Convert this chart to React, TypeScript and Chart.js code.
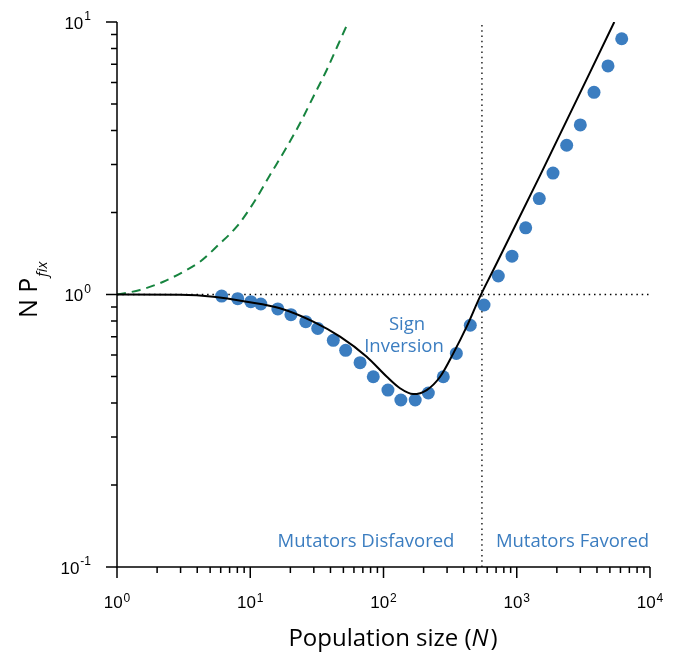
import React, { useEffect, useRef } from 'react';
import { Chart, registerables } from 'chart.js';

Chart.register(...registerables);

// ---- Data ----
const dotsN = [6.1, 8.05, 10.1, 12.0, 16.1, 20.2, 26.1, 32.1, 42.0, 52.0, 66.7, 83.8, 108, 135, 173, 217, 281, 352, 448, 568, 727, 921, 1167, 1476, 1871, 2370, 2999, 3800, 4839, 6134];
const dotsP = [0.987, 0.965, 0.941, 0.923, 0.885, 0.843, 0.795, 0.751, 0.679, 0.624, 0.562, 0.499, 0.446, 0.41, 0.41, 0.435, 0.499, 0.608, 0.771, 0.915, 1.169, 1.383, 1.757, 2.25, 2.79, 3.53, 4.19, 5.52, 6.9, 8.68];

const theoryN = [1, 2.97, 5.28, 9.4, 16.7, 29.7, 47.2, 74.8, 106, 133, 167, 211, 266, 334, 421, 530, 667, 1494, 5395];
const theoryP = [1, 0.998, 0.982, 0.941, 0.89, 0.795, 0.7, 0.591, 0.499, 0.453, 0.431, 0.446, 0.499, 0.608, 0.762, 0.982, 1.23, 2.73, 10];

const neutralN = [1, 1.488, 2.226, 3.146, 4.197, 5.757, 7.912, 10.54, 14.07, 18.23, 23.63, 29.74, 37.48, 45.16, 54.43];
const neutralP = [1, 1.039, 1.114, 1.212, 1.319, 1.519, 1.774, 2.161, 2.745, 3.391, 4.249, 5.32, 6.667, 8.166, 10];

const thresholdN = 548;
const referenceP = 1;

const xRange = [1, 10000];
const yRange = [0.1, 10];

const xMajorTicks = [1, 10, 100, 1000, 10000];
const xMajorExponents = ['0', '1', '2', '3', '4'];
const yMajorTicks = [0.1, 1, 10];
const yMajorExponents = ['-1', '0', '1'];
const minorMultipliers = [2, 3, 4, 5, 6, 7, 8, 9];

const xTitle = 'Population size (';
const xTitleItalic = 'N';
const yTitleMain = 'N P';
const yTitleSub = 'fix';
const annotationSign = ['Sign', 'Inversion'];
const annotationLeft = 'Mutators Disfavored';
const annotationRight = 'Mutators Favored';

const BLUE = 'rgb(59,125,192)';
const GREEN = '#17843f';

const axesPlugin = {
  id: 'customAxes',
  afterDraw(chart: any) {
    const ctx: CanvasRenderingContext2D = chart.ctx;
    const xs = chart.scales.x;
    const ys = chart.scales.y;
    const { left, right, top, bottom } = chart.chartArea;
    ctx.save();
    ctx.strokeStyle = '#000';
    ctx.lineWidth = 1.5;
    ctx.beginPath();
    ctx.moveTo(left, top);
    ctx.lineTo(left, bottom);
    ctx.lineTo(right, bottom);
    ctx.stroke();

    // ticks
    ctx.beginPath();
    xMajorTicks.forEach((v) => {
      const px = xs.getPixelForValue(v);
      ctx.moveTo(px, bottom);
      ctx.lineTo(px, bottom + 11);
    });
    for (let i = 0; i < xMajorTicks.length - 1; i++) {
      minorMultipliers.forEach((m) => {
        const px = xs.getPixelForValue(xMajorTicks[i] * m);
        ctx.moveTo(px, bottom);
        ctx.lineTo(px, bottom + 6);
      });
    }
    yMajorTicks.forEach((v) => {
      const py = ys.getPixelForValue(v);
      ctx.moveTo(left - 11, py);
      ctx.lineTo(left, py);
    });
    for (let i = 0; i < yMajorTicks.length - 1; i++) {
      minorMultipliers.forEach((m) => {
        const py = ys.getPixelForValue(yMajorTicks[i] * m);
        ctx.moveTo(left - 6, py);
        ctx.lineTo(left, py);
      });
    }
    ctx.stroke();

    // tick labels
    ctx.fillStyle = '#000';
    ctx.textBaseline = 'alphabetic';
    ctx.textAlign = 'left';
    const baseFont = '17px "Liberation Sans", Arial, sans-serif';
    const supFont = '12px "Liberation Sans", Arial, sans-serif';
    xMajorTicks.forEach((v, i) => {
      const px = xs.getPixelForValue(v);
      ctx.font = baseFont;
      const w1 = ctx.measureText('10').width;
      ctx.font = supFont;
      const w2 = ctx.measureText(xMajorExponents[i]).width;
      const start = px - (w1 + 1 + w2) / 2;
      ctx.font = baseFont;
      ctx.fillText('10', start, bottom + 41);
      ctx.font = supFont;
      ctx.fillText(xMajorExponents[i], start + w1 + 1, bottom + 35);
    });
    yMajorTicks.forEach((v, i) => {
      const py = ys.getPixelForValue(v);
      ctx.font = supFont;
      const w2 = ctx.measureText(yMajorExponents[i]).width;
      ctx.font = baseFont;
      const w1 = ctx.measureText('10').width;
      const rightEdge = left - 26;
      const start = rightEdge - w2 - 1 - w1;
      ctx.fillText('10', start, py + 6.5);
      ctx.font = supFont;
      ctx.fillText(yMajorExponents[i], start + w1 + 1, py - 2);
    });

    // x title
    const titleFont = '24px "Open Sans", sans-serif';
    const titleItalic = 'italic 24px "Open Sans", sans-serif';
    ctx.font = titleFont;
    const t1 = ctx.measureText(xTitle).width;
    const t3 = ctx.measureText(')').width;
    ctx.font = titleItalic;
    const t2 = ctx.measureText(xTitleItalic).width;
    const total = t1 + t2 + t3 + 2;
    let sx = 393 - total / 2;
    const by = bottom + 79;
    ctx.font = titleFont;
    ctx.fillText(xTitle, sx, by);
    sx += t1;
    ctx.font = titleItalic;
    ctx.fillText(xTitleItalic, sx, by);
    sx += t2 + 2;
    ctx.font = titleFont;
    ctx.fillText(')', sx, by);

    // y title (rotated)
    ctx.save();
    ctx.translate(37, 318);
    ctx.rotate(-Math.PI / 2);
    ctx.font = '25px "Open Sans", sans-serif';
    ctx.fillText(yTitleMain, 0, 0);
    const ym = ctx.measureText(yTitleMain).width;
    ctx.font = 'italic 14.5px "Open Sans", sans-serif';
    ctx.fillText(yTitleSub, ym + 1, 10);
    ctx.restore();

    // annotations
    ctx.fillStyle = BLUE;
    ctx.font = '18.5px "Open Sans", sans-serif';
    ctx.textAlign = 'center';
    ctx.fillText(annotationSign[0], 407, 330);
    ctx.fillText(annotationSign[1], 404, 352);
    ctx.fillText(annotationLeft, 366, 546.5);
    ctx.fillText(annotationRight, 572.5, 546.5);
    ctx.restore();
  },
};

export default function App() {
  const canvasRef = useRef<HTMLCanvasElement | null>(null);

  useEffect(() => {
    if (!canvasRef.current) return;
    const chart = new Chart(canvasRef.current, {
      type: 'scatter',
      data: {
        datasets: [
          {
            label: 'theory',
            data: theoryN.map((n, i) => ({ x: n, y: theoryP[i] })),
            showLine: true,
            borderColor: '#000',
            borderWidth: 2,
            pointRadius: 0,
            cubicInterpolationMode: 'monotone',
            order: 0,
          } as any,
          {
            label: 'simulation',
            data: dotsN.map((n, i) => ({ x: n, y: dotsP[i] })),
            showLine: false,
            pointRadius: 6.5,
            pointBackgroundColor: BLUE,
            pointBorderWidth: 0,
            pointBorderColor: BLUE,
            order: 1,
          } as any,
          {
            label: 'neutral',
            data: neutralN.map((n, i) => ({ x: n, y: neutralP[i] })),
            showLine: true,
            borderColor: GREEN,
            borderWidth: 2,
            borderDash: [9, 6],
            pointRadius: 0,
            cubicInterpolationMode: 'monotone',
            order: 2,
          } as any,
          {
            label: 'ref-h',
            data: [
              { x: xRange[0], y: referenceP },
              { x: xRange[1], y: referenceP },
            ],
            showLine: true,
            borderColor: '#000',
            borderWidth: 1.3,
            borderDash: [1.5, 3.8],
            pointRadius: 0,
            order: 3,
          } as any,
          {
            label: 'ref-v',
            data: [
              { x: thresholdN, y: yRange[0] },
              { x: thresholdN, y: yRange[1] },
            ],
            showLine: true,
            borderColor: '#000',
            borderWidth: 1.3,
            borderDash: [1.5, 3.8],
            pointRadius: 0,
            order: 3,
          } as any,
        ],
      },
      options: {
        responsive: false,
        animation: false,
        devicePixelRatio: 1,
        events: [],
        layout: { padding: { left: 117, right: 28, top: 22, bottom: 91 } },
        scales: {
          x: { type: 'logarithmic', min: xRange[0], max: xRange[1], display: false },
          y: { type: 'logarithmic', min: yRange[0], max: yRange[1], display: false },
        },
        plugins: {
          legend: { display: false },
          tooltip: { enabled: false },
        },
      },
      plugins: [axesPlugin],
    });
    return () => chart.destroy();
  }, []);

  return (
    <div style={{ position: 'fixed', left: 0, top: 0, width: 678, height: 658, background: '#fff' }}>
      <canvas ref={canvasRef} width={678} height={658} />
    </div>
  );
}
